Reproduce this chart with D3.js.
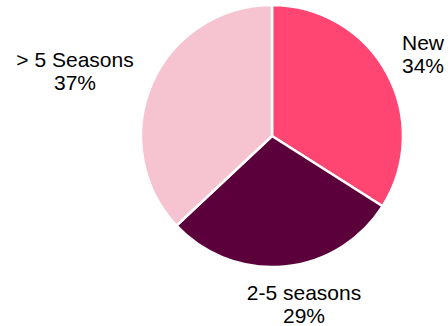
<!DOCTYPE html>
<html><head><meta charset="utf-8">
<script src="https://cdn.jsdelivr.net/npm/d3@7"></script>
<style>body{margin:0;background:#fff}svg{display:block}</style>
</head><body>
<svg id="c" width="448" height="326"></svg>
<script>
const categories = ["New", "2-5 seasons", "> 5 Seasons"];
const values = [34, 29, 37];
const labels = ["34%", "29%", "37%"];
const colors = ["#FF4673", "#5C003C", "#F5C4D0"];

const svg = d3.select("#c");
const cx = 272, cy = 136, r = 131;
const pie = d3.pie().sort(null).value(d => d.v);
const data = categories.map((c, i) => ({c, v: values[i], l: labels[i], col: colors[i]}));
const arcs = pie(data);
const arc = d3.arc().innerRadius(0).outerRadius(r);
const g = svg.append("g").attr("transform", `translate(${cx},${cy})`);
g.selectAll("path").data(arcs).join("path")
  .attr("d", arc).attr("fill", d => d.data.col)
  .attr("stroke", "#fff").attr("stroke-width", 2.5).attr("stroke-linejoin", "round");

const labelPos = [[423, 50], [304, 300], [75, 67]];
const t = svg.selectAll("text.lbl").data(arcs).join("text")
  .attr("class", "lbl")
  .attr("font-family", "Liberation Sans, Arial, sans-serif")
  .attr("font-size", 21).attr("fill", "#000").attr("text-anchor", "middle")
  .attr("x", (d, i) => labelPos[i][0]).attr("y", (d, i) => labelPos[i][1]);
t.append("tspan").attr("x", (d, i) => labelPos[i][0]).text(d => d.data.c);
t.append("tspan").attr("x", (d, i) => labelPos[i][0]).attr("dy", 23).text(d => d.data.l);
</script>
</body></html>
